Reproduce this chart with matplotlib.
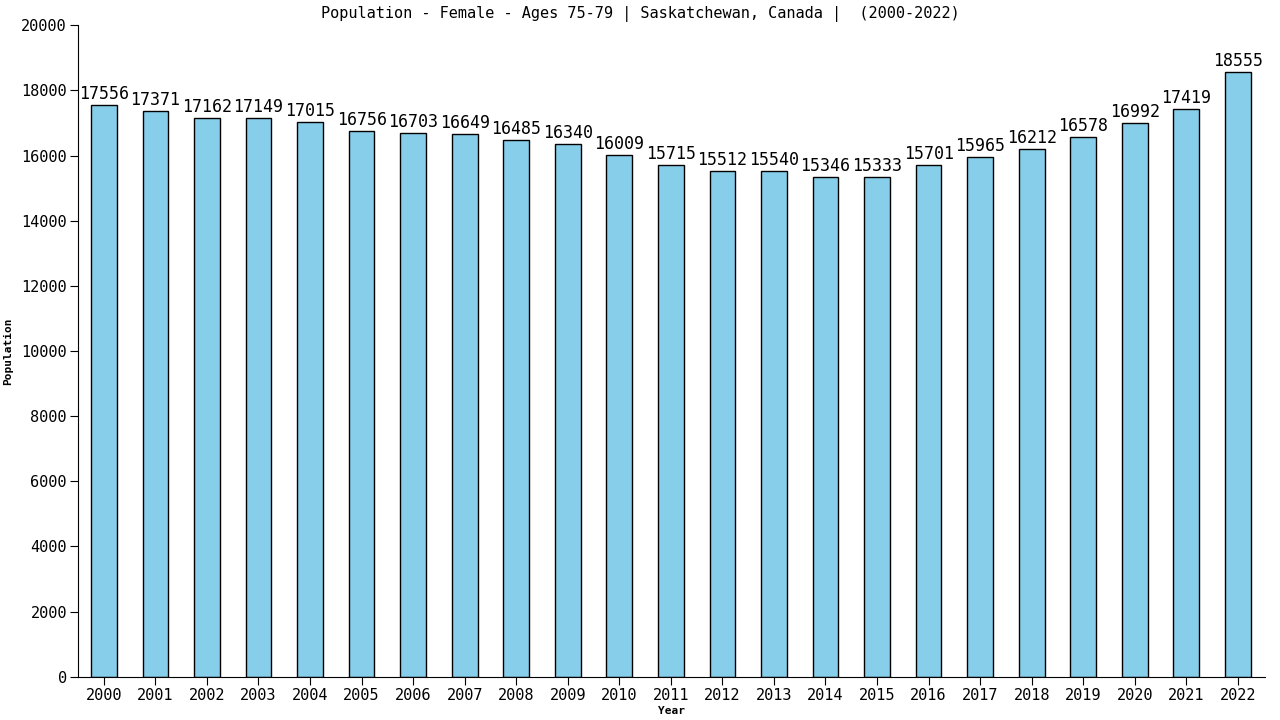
import matplotlib
matplotlib.use('Agg')
import matplotlib.pyplot as plt

years = list(range(2000, 2023))
population = [17556, 17371, 17162, 17149, 17015, 16756, 16703, 16649, 16485, 16340,
              16009, 15715, 15512, 15540, 15346, 15333, 15701, 15965, 16212, 16578,
              16992, 17419, 18555]
yticks = list(range(0, 20001, 2000))

plt.rcParams['font.family'] = ['DejaVu Sans Mono']

fig = plt.figure(figsize=(12.8, 7.2), dpi=100)
ax = fig.add_axes([0.061, 0.06, 0.927, 0.905])

ax.bar(years, population, width=0.5, color='#87ceeb', edgecolor='black', linewidth=1)
for x, v in zip(years, population):
    ax.text(x, v + 60, str(v), ha='center', va='bottom', fontsize=12)

ax.set_xlim(1999.5, 2022.52)
ax.set_ylim(0, 20000)
ax.set_xticks(years)
ax.set_xticklabels([str(y) for y in years], fontsize=11)
ax.set_yticks(yticks)
ax.set_yticklabels([str(t) for t in yticks], fontsize=11)
ax.tick_params(axis='both', length=6, color='black', pad=2)
ax.spines['top'].set_visible(False)
ax.spines['right'].set_visible(False)
ax.set_xlabel('Year', fontsize=8, fontweight='bold', labelpad=2)
ax.set_ylabel('Population', fontsize=8, fontweight='bold', labelpad=6)
fig.suptitle('Population - Female - Ages 75-79 | Saskatchewan, Canada |  (2000-2022)',
             fontsize=11, y=0.992)

fig.savefig('out.png')
